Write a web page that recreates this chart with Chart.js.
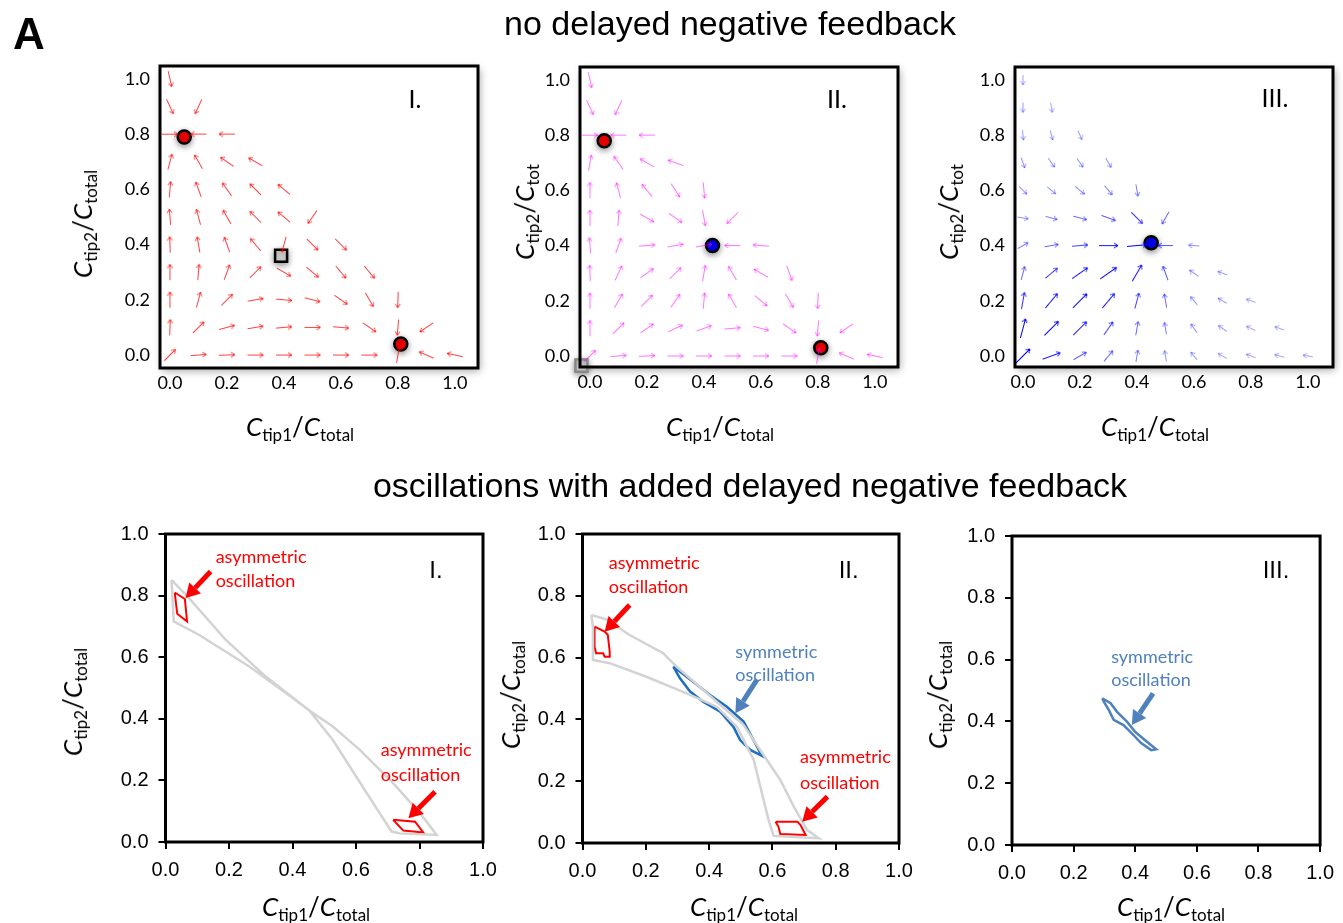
<!DOCTYPE html>
<html>
<head>
<meta charset="utf-8">
<script src="https://cdn.jsdelivr.net/npm/chart.js@4.4.0/dist/chart.umd.min.js"></script>
<style>
  body { margin: 0; background: #fff; }
  #page { position: relative; width: 1343px; height: 923px; overflow: hidden; font-family: 'Liberation Sans', Arial, sans-serif; }
  canvas.layer { position: absolute; left: 0; top: 0; }
  .t { position: absolute; white-space: nowrap; transform: translate(-50%, -50%); line-height: 1; color: #000; }
  .rot { transform: translate(-50%, -50%) rotate(-90deg); }
  .head { font-size: 34px; }
  .letter { font-size: 44px; font-weight: bold; }
  .ax { font-family: Lato, 'Open Sans', sans-serif; font-size: 26px; }
  .ax i { font-style: italic; }
  .ax sub { font-size: 17px; vertical-align: -0.3em; line-height: 0; }
</style>
</head>
<body>
<div id="page">
  <canvas class="layer" id="top1" width="1343" height="923"></canvas>
  <canvas class="layer" id="top2" width="1343" height="923"></canvas>
  <canvas class="layer" id="top3" width="1343" height="923"></canvas>
  <canvas class="layer" id="bot1" width="1343" height="923"></canvas>
  <canvas class="layer" id="bot2" width="1343" height="923"></canvas>
  <canvas class="layer" id="bot3" width="1343" height="923"></canvas>

  <div class="t letter" style="left:29px; top:34px;">A</div>
  <div class="t head" style="left:730px; top:23px;">no delayed negative feedback</div>
  <div class="t head" style="left:750px; top:485px;">oscillations with added delayed negative feedback</div>

  <div class="t ax" style="left:300px; top:426px;"><i>C</i><sub>tip1</sub>/<i>C</i><sub>total</sub></div>
  <div class="t ax" style="left:720px; top:426px;"><i>C</i><sub>tip1</sub>/<i>C</i><sub>total</sub></div>
  <div class="t ax" style="left:1155px; top:426px;"><i>C</i><sub>tip1</sub>/<i>C</i><sub>total</sub></div>
  <div class="t ax rot" style="left:82px; top:224px;"><i>C</i><sub>tip2</sub>/<i>C</i><sub>total</sub></div>
  <div class="t ax rot" style="left:524px; top:212px;"><i>C</i><sub>tip2</sub>/<i>C</i><sub>tot</sub></div>
  <div class="t ax rot" style="left:948px; top:212px;"><i>C</i><sub>tip2</sub>/<i>C</i><sub>tot</sub></div>

  <div class="t ax" style="left:316px; top:906px;"><i>C</i><sub>tip1</sub>/<i>C</i><sub>total</sub></div>
  <div class="t ax" style="left:744px; top:906px;"><i>C</i><sub>tip1</sub>/<i>C</i><sub>total</sub></div>
  <div class="t ax" style="left:1171px; top:906px;"><i>C</i><sub>tip1</sub>/<i>C</i><sub>total</sub></div>
  <div class="t ax rot" style="left:72px; top:702px;"><i>C</i><sub>tip2</sub>/<i>C</i><sub>total</sub></div>
  <div class="t ax rot" style="left:510px; top:695px;"><i>C</i><sub>tip2</sub>/<i>C</i><sub>total</sub></div>
  <div class="t ax rot" style="left:937px; top:695px;"><i>C</i><sub>tip2</sub>/<i>C</i><sub>total</sub></div>
</div>

<script>
// ---------- data ----------
const tickVals = [0, 0.2, 0.4, 0.6, 0.8, 1.0];
const gridVals = [0, 0.1, 0.2, 0.3, 0.4, 0.5, 0.6, 0.7, 0.8, 0.9, 1.0];

// flow direction (degrees, counter-clockwise from +x) on the 0.1 grid, row = Ctip2, column = Ctip1
const fieldAngI = [
  [45, 5, 2, 0, 0, 0, 0, 0, 80, 156, 168],
  [88, 45, 15, 10, 5, 0, -5, -35, -95, -146],
  [90, 75, 45, 10, -5, -15, -35, -60, -92],
  [90, 85, 70, 45, -30, -40, -50, -50],
  [92, 100, 110, 130, -105, -45, -45],
  [95, 105, 120, 135, 140, -125],
  [85, 110, 125, 135, 140],
  [75, 120, 145, 150],
  [0, 180, 180],
  [-65, -115],
  [-77]
];
const fieldAngII = [
  [45, 5, 3, 0, 0, 0, 0, 0, 80, 156, 168],
  [90, 45, 35, 25, 20, 5, -15, -35, -95, -146],
  [90, 60, 45, 55, 85, 120, -40, -60, -92],
  [92, 65, 35, 45, 80, 120, 150, -70],
  [95, 70, 5, 10, 10, 180, 175],
  [90, 85, -30, -35, -80, -135],
  [90, 105, 130, -57, -85],
  [80, 125, 150, 160],
  [0, 180, 180],
  [-65, -115],
  [-77]
];
const fieldAngIII = [
  [45, 20, 30, 50, 80, 100, 130, 150, 160, 165, 170],
  [75, 45, 45, 55, 80, 100, 125, 145, 155, 160],
  [80, 50, 45, 50, 75, 100, 130, 150, 160],
  [75, 40, 35, 35, 60, 110, 145, 160],
  [30, 10, 5, 0, 5, 180, 175],
  [-10, -15, -15, -20, -45, -120],
  [-45, -40, -40, -50, -80],
  [-70, -55, -55, -60],
  [-85, -75, -65],
  [-90, -80],
  [-90]
];
// relative flow speed in panel III (darker / longer arrows near the origin-to-attractor band)
const fieldStrIII = [
  [1, 0.9, 0.6, 0.5, 0.4, 0.3, 0.25, 0.2, 0.2, 0.2, 0.2],
  [1, 1, 0.9, 0.7, 0.5, 0.4, 0.3, 0.25, 0.2, 0.2],
  [0.8, 0.9, 1, 0.9, 0.7, 0.5, 0.3, 0.25, 0.2],
  [0.5, 0.7, 0.9, 1, 0.9, 0.6, 0.3, 0.25],
  [0.4, 0.5, 0.7, 0.9, 1, 0.6, 0.3],
  [0.3, 0.4, 0.5, 0.6, 0.7, 0.5],
  [0.3, 0.3, 0.35, 0.4, 0.4],
  [0.3, 0.3, 0.3, 0.3],
  [0.25, 0.25, 0.25],
  [0.25, 0.2],
  [0.2]
];

// steady states
const stableRedI = [[0.05, 0.79], [0.81, 0.04]];
const saddleI = [[0.39, 0.36]];
const stableRedII = [[0.05, 0.78], [0.81, 0.03]];
const stableBlueII = [[0.43, 0.40]];
const saddleII = [[-0.03, -0.035]];
const stableBlueIII = [[0.45, 0.41]];

// trajectories with delayed negative feedback
const grayLoopI = [[0.019, 0.851], [0.026, 0.716], [0.105, 0.673], [0.264, 0.570], [0.380, 0.483], [0.453, 0.427],
  [0.527, 0.331], [0.601, 0.212], [0.675, 0.093], [0.712, 0.034], [0.738, 0.028], [0.854, 0.023], [0.802, 0.093],
  [0.717, 0.191], [0.612, 0.299], [0.527, 0.375], [0.453, 0.427], [0.316, 0.537], [0.190, 0.656], [0.074, 0.792]];
const redLoopI1 = [[0.029, 0.810], [0.061, 0.789], [0.068, 0.716], [0.037, 0.741]];
const redLoopI2 = [[0.717, 0.072], [0.786, 0.066], [0.812, 0.031], [0.749, 0.037]];

const grayLoopII = [[0.028, 0.738], [0.080, 0.722], [0.117, 0.695], [0.149, 0.673], [0.255, 0.614], [0.297, 0.571],
  [0.424, 0.457], [0.509, 0.382], [0.572, 0.285], [0.625, 0.204], [0.668, 0.117], [0.710, 0.042], [0.747, 0.015],
  [0.604, 0.023], [0.588, 0.074], [0.562, 0.182], [0.541, 0.269], [0.488, 0.376], [0.424, 0.441], [0.329, 0.484],
  [0.202, 0.538], [0.086, 0.582], [0.033, 0.592], [0.033, 0.700]];
const redLoopII1 = [[0.038, 0.700], [0.070, 0.684], [0.080, 0.673], [0.086, 0.619], [0.086, 0.603], [0.070, 0.603],
  [0.065, 0.614], [0.043, 0.614], [0.038, 0.635]];
const redLoopII2 = [[0.610, 0.069], [0.679, 0.069], [0.689, 0.058], [0.705, 0.026], [0.625, 0.029], [0.619, 0.053]];
const blueLoopII = [[0.287, 0.571], [0.329, 0.538], [0.403, 0.479], [0.456, 0.441], [0.509, 0.393], [0.567, 0.282],
  [0.530, 0.301], [0.498, 0.333], [0.477, 0.376], [0.435, 0.425], [0.381, 0.457], [0.340, 0.490], [0.308, 0.533]];

const blueLoopIII = [[0.293, 0.475], [0.320, 0.459], [0.341, 0.431], [0.373, 0.399], [0.399, 0.367], [0.431, 0.340],
  [0.468, 0.310], [0.452, 0.307], [0.420, 0.329], [0.394, 0.356], [0.362, 0.388], [0.330, 0.405], [0.314, 0.437],
  [0.298, 0.464]];

// ---------- helpers ----------
const W = 1343, H = 923, Y_W = 60, X_H = 44;
const RED = '#ff0000', STEEL = '#4f81bd';

const toXY = arr => arr.map(p => ({x: p[0], y: p[1]}));
const closeLoop = arr => toXY(arr.concat([arr[0]]));

function fieldPoints(angRows, strRows) {
  const pts = [];
  angRows.forEach((row, j) => row.forEach((a, i) => {
    pts.push({x: gridVals[i], y: gridVals[j], a: a, s: strRows ? strRows[j][i] : 1});
  }));
  return pts;
}

const glyphCache = {};
function arrowGlyph(rgb, alpha, len) {
  const key = rgb + '|' + alpha + '|' + len;
  if (glyphCache[key]) return glyphCache[key];
  const c = document.createElement('canvas');
  c.width = Math.ceil(len) + 2;
  c.height = 9;
  const g = c.getContext('2d');
  g.strokeStyle = 'rgba(' + rgb + ',' + alpha + ')';
  g.lineWidth = 1;
  g.beginPath();
  g.moveTo(1, 4.5); g.lineTo(len + 1, 4.5);
  g.moveTo(len - 3, 2); g.lineTo(len + 1, 4.5); g.lineTo(len - 3, 7);
  g.stroke();
  glyphCache[key] = c;
  return c;
}

function fieldSet(angRows, strRows, rgb, alpha, len) {
  return {
    data: fieldPoints(angRows, strRows),
    pointRadius: 3,
    rotation: c => (c.raw ? -c.raw.a : 0),
    pointStyle: c => {
      const s = c.raw ? Math.round(c.raw.s * 20) / 20 : 1;
      return strRows ? arrowGlyph(rgb, (0.2 + 0.8 * s).toFixed(2), Math.round(7 + 13 * s))
                     : arrowGlyph(rgb, alpha, len);
    }
  };
}

function steadySet(arr, fill, square, border) {
  return {
    data: toXY(arr),
    pointStyle: square ? 'rect' : 'circle',
    pointRadius: square ? 8.5 : 6.5,
    pointBackgroundColor: fill,
    pointBorderColor: border || '#000',
    pointBorderWidth: 2.5,
    shadow: true,
    clip: false
  };
}

function loopSet(arr, color, width) {
  return { data: closeLoop(arr), showLine: true, pointRadius: 0, borderColor: color, borderWidth: width, tension: 0 };
}

function drawArrow(ctx, x0, y0, x1, y1, color) {
  const dx = x1 - x0, dy = y1 - y0, len = Math.hypot(dx, dy);
  const ux = dx / len, uy = dy / len, hl = 14, hw = 8;
  const bx = x1 - ux * hl, by = y1 - uy * hl;
  ctx.strokeStyle = color; ctx.fillStyle = color; ctx.lineWidth = 5;
  ctx.beginPath(); ctx.moveTo(x0, y0); ctx.lineTo(bx, by); ctx.stroke();
  ctx.beginPath(); ctx.moveTo(x1, y1);
  ctx.lineTo(bx - uy * hw, by + ux * hw); ctx.lineTo(bx + uy * hw, by - ux * hw);
  ctx.closePath(); ctx.fill();
}

const marksPlugin = {
  id: 'marks',
  beforeDatasetsDraw(chart, args, opts) {
    if (opts.frame !== 'top') return;
    const a = chart.chartArea, ctx = chart.ctx;
    ctx.save();
    ctx.shadowColor = 'rgba(0,0,0,0.35)'; ctx.shadowBlur = 8; ctx.shadowOffsetX = 2; ctx.shadowOffsetY = 3;
    ctx.fillStyle = '#fff';
    ctx.fillRect(a.left, a.top, a.width, a.height);
    ctx.restore();
  },
  beforeDatasetDraw(chart, args) {
    if (chart.data.datasets[args.index].shadow) {
      const ctx = chart.ctx;
      ctx.save();
      ctx.shadowColor = 'rgba(0,0,0,0.4)'; ctx.shadowBlur = 6; ctx.shadowOffsetY = 2;
    }
  },
  afterDatasetDraw(chart, args) {
    if (chart.data.datasets[args.index].shadow) chart.ctx.restore();
  },
  afterDatasetsDraw(chart, args, opts) {
    const ctx = chart.ctx, a = chart.chartArea, xs = chart.scales.x, ys = chart.scales.y;
    ctx.save();
    ctx.strokeStyle = '#000'; ctx.lineWidth = 3;
    ctx.strokeRect(a.left, a.top, a.width, a.height);
    (opts.arrows || []).forEach(ar => {
      drawArrow(ctx, xs.getPixelForValue(ar.from[0]), ys.getPixelForValue(ar.from[1]),
        xs.getPixelForValue(ar.to[0]), ys.getPixelForValue(ar.to[1]), ar.color);
    });
    ctx.textBaseline = 'middle';
    ctx.textAlign = 'left';
    ctx.font = '18px Lato';
    (opts.labels || []).forEach(lb => {
      ctx.fillStyle = lb.color;
      lb.lines.forEach((txt, k) => ctx.fillText(txt, xs.getPixelForValue(lb.x), ys.getPixelForValue(lb.y[k])));
    });
    if (opts.roman) {
      ctx.fillStyle = '#000';
      ctx.textAlign = 'center';
      ctx.font = opts.frame === 'top' ? '25px Lato' : '24px "Liberation Sans"';
      ctx.fillText(opts.roman.text, xs.getPixelForValue(opts.roman.x), ys.getPixelForValue(opts.roman.y));
    }
    ctx.restore();
  }
};

function makeChart(id, area, xr, yr, datasets, marks, style) {
  const top = style === 'top';
  const tickFont = top ? {family: 'Lato', size: 18} : {family: 'Liberation Sans', size: 20};
  const axis = (range, isX) => ({
    type: 'linear', min: range[0], max: range[1],
    afterBuildTicks: s => { s.ticks = tickVals.map(v => ({value: v})); },
    afterFit: s => { if (isX) s.height = X_H; else s.width = Y_W; },
    border: {display: false},
    grid: top ? {display: false, drawTicks: false}
              : {display: true, drawOnChartArea: false, drawTicks: true, tickLength: 7, color: '#000', lineWidth: 2},
    ticks: {color: '#000', font: tickFont, padding: top ? (isX ? 4 : 10) : (isX ? 9 : 10),
            autoSkip: false, maxRotation: 0, callback: v => v.toFixed(1)}
  });
  return new Chart(document.getElementById(id), {
    type: 'scatter',
    data: {datasets: datasets},
    options: {
      responsive: false, animation: false, events: [],
      layout: {padding: {left: area[0] - Y_W, top: area[1], right: W - area[2], bottom: H - area[3] - X_H}},
      scales: {x: axis(xr, true), y: axis(yr, false)},
      plugins: {legend: {display: false}, tooltip: {enabled: false}, marks: Object.assign({frame: style}, marks)}
    },
    plugins: [marksPlugin]
  });
}

// ---------- top row: flow fields ----------
makeChart('top1', [160, 66, 478, 368], [-0.035, 1.081], [-0.047, 1.047], [
  fieldSet(fieldAngI, null, '255,0,0', 0.75, 16),
  steadySet(saddleI, '#dcdcdc', true),
  steadySet(stableRedI, RED)
], {roman: {text: 'I.', x: 0.86, y: 0.924}}, 'top');

makeChart('top2', [580, 67, 898, 367], [-0.035, 1.081], [-0.040, 1.047], [
  fieldSet(fieldAngII, null, '255,0,255', 0.55, 16),
  steadySet(saddleII, '#d8d8d8', true, '#888'),
  steadySet(stableRedII, RED),
  steadySet(stableBlueII, '#0000ff')
], {roman: {text: 'II.', x: 0.867, y: 0.928}}, 'top');

makeChart('top3', [1015, 67, 1333, 367], [-0.028, 1.088], [-0.040, 1.047], [
  fieldSet(fieldAngIII, fieldStrIII, '0,0,255'),
  steadySet(stableBlueIII, '#0000ff')
], {roman: {text: 'III.', x: 0.884, y: 0.93}}, 'top');

// ---------- bottom row: oscillations ----------
makeChart('bot1', [165.5, 534, 483, 842], [0, 1], [0, 1], [
  loopSet(grayLoopI, '#d3d3d3', 2.5),
  loopSet(redLoopI1, RED, 2),
  loopSet(redLoopI2, RED, 2)
], {
  arrows: [{from: [0.142, 0.878], to: [0.063, 0.792], color: RED}, {from: [0.849, 0.163], to: [0.765, 0.077], color: RED}],
  labels: [{lines: ['asymmetric', 'oscillation'], x: 0.158, y: [0.926, 0.847], color: RED},
           {lines: ['asymmetric', 'oscillation'], x: 0.678, y: [0.299, 0.218], color: RED}],
  roman: {text: 'I.', x: 0.852, y: 0.878}
}, 'bottom');

makeChart('bot2', [582.5, 534, 899, 843], [0, 1], [0, 1], [
  loopSet(grayLoopII, '#d3d3d3', 2.5),
  loopSet(redLoopII1, RED, 2),
  loopSet(redLoopII2, RED, 2),
  loopSet(blueLoopII, '#1f6fbf', 2.5)
], {
  arrows: [{from: [0.149, 0.770], to: [0.070, 0.684], color: RED}, {from: [0.774, 0.150], to: [0.694, 0.069], color: RED},
           {from: [0.551, 0.528], to: [0.483, 0.420], color: STEEL}],
  labels: [{lines: ['asymmetric', 'oscillation'], x: 0.083, y: [0.905, 0.827], color: RED},
           {lines: ['asymmetric', 'oscillation'], x: 0.687, y: [0.277, 0.194], color: RED},
           {lines: ['symmetric', 'oscillation'], x: 0.483, y: [0.619, 0.544], color: STEEL}],
  roman: {text: 'II.', x: 0.841, y: 0.878}
}, 'bottom');

makeChart('bot3', [1012, 536, 1327, 845], [0, 1], [0, 1], [
  loopSet(blueLoopIII, STEEL, 2.5)
], {
  arrows: [{from: [0.458, 0.491], to: [0.389, 0.388], color: STEEL}],
  labels: [{lines: ['symmetric', 'oscillation'], x: 0.322, y: [0.609, 0.532], color: STEEL}],
  roman: {text: 'III.', x: 0.857, y: 0.885}
}, 'bottom');
</script>
</body>
</html>
